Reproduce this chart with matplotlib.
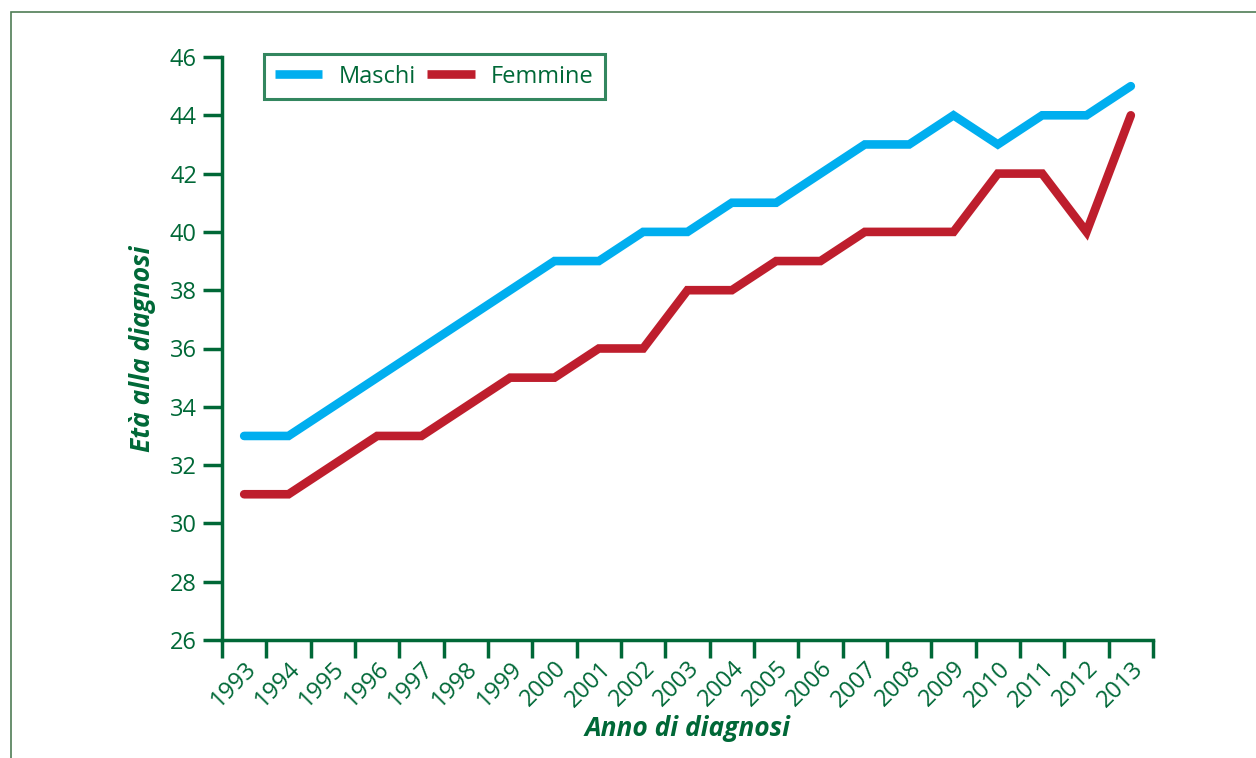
import matplotlib.pyplot as plt
from matplotlib.patches import Rectangle

# dati
anni = [str(a) for a in range(1993, 2014)]
maschi = [33, 33, 34, 35, 36, 37, 38, 39, 39, 40, 40, 41, 41, 42, 43, 43, 44, 43, 44, 44, 45]
femmine = [31, 31, 32, 33, 33, 34, 35, 35, 36, 36, 38, 38, 39, 39, 40, 40, 40, 42, 42, 40, 44]

verde = "#006837"
blu = "#00aeef"
rosso = "#be1e2d"

plt.rcParams['font.family'] = ['Open Sans', 'DejaVu Sans']

fig = plt.figure(figsize=(12.56, 7.58), dpi=100)
ax = fig.add_axes([222/1256, 1 - 640/758, (1153-222)/1256, (640-57)/758])

# cornice della figura
fig.patches.append(Rectangle((11/1256, -0.1), 2, 1 - 12/758 + 0.1, transform=fig.transFigure,
                             fill=False, edgecolor="#4f7d55", linewidth=1.2))

x = list(range(len(anni)))
ax.plot(x, maschi, color=blu, linewidth=6.2, solid_capstyle="round", solid_joinstyle="miter", label="Maschi")
ax.plot(x, femmine, color=rosso, linewidth=6.2, solid_capstyle="round", solid_joinstyle="miter", label="Femmine")

ax.set_xlim(-0.5, len(anni) - 0.5)
ax.set_ylim(26, 46)
ax.set_yticks(range(26, 47, 2))

ax.set_xticks(x)
ax.set_xticklabels(anni, rotation=45, ha="right", rotation_mode="anchor")
ax.set_xticks([i - 0.5 for i in range(len(anni) + 1)], minor=True)
ax.tick_params(axis="x", which="major", length=0, pad=12, labelsize=17, labelcolor=verde)
ax.tick_params(axis="x", which="minor", length=13, width=2.5, color=verde, direction="out")
ax.tick_params(axis="y", length=14, width=2.5, color=verde, labelsize=17, labelcolor=verde, pad=4)

for s in ["top", "right"]:
    ax.spines[s].set_visible(False)
for s in ["left", "bottom"]:
    ax.spines[s].set_color(verde)
    ax.spines[s].set_linewidth(2.5)

ax.set_ylabel("Età alla diagnosi", fontsize=19, fontweight="bold", fontstyle="italic", color=verde, labelpad=10)
ax.set_xlabel("Anno di diagnosi", fontsize=19, fontweight="bold", fontstyle="italic", color=verde, labelpad=2)

leg = ax.legend(loc="upper left", bbox_to_anchor=(42/931, 1.005), borderaxespad=0, ncol=2, frameon=True,
                fancybox=False, fontsize=17, handlelength=2.0, columnspacing=0.5, handletextpad=0.7,
                borderpad=0.45)
leg.get_frame().set_edgecolor(verde)
leg.get_frame().set_linewidth(2.2)
for t in leg.get_texts():
    t.set_color(verde)
for h in leg.get_lines():
    h.set_solid_capstyle("butt")

fig.savefig("out.png", dpi=100)
